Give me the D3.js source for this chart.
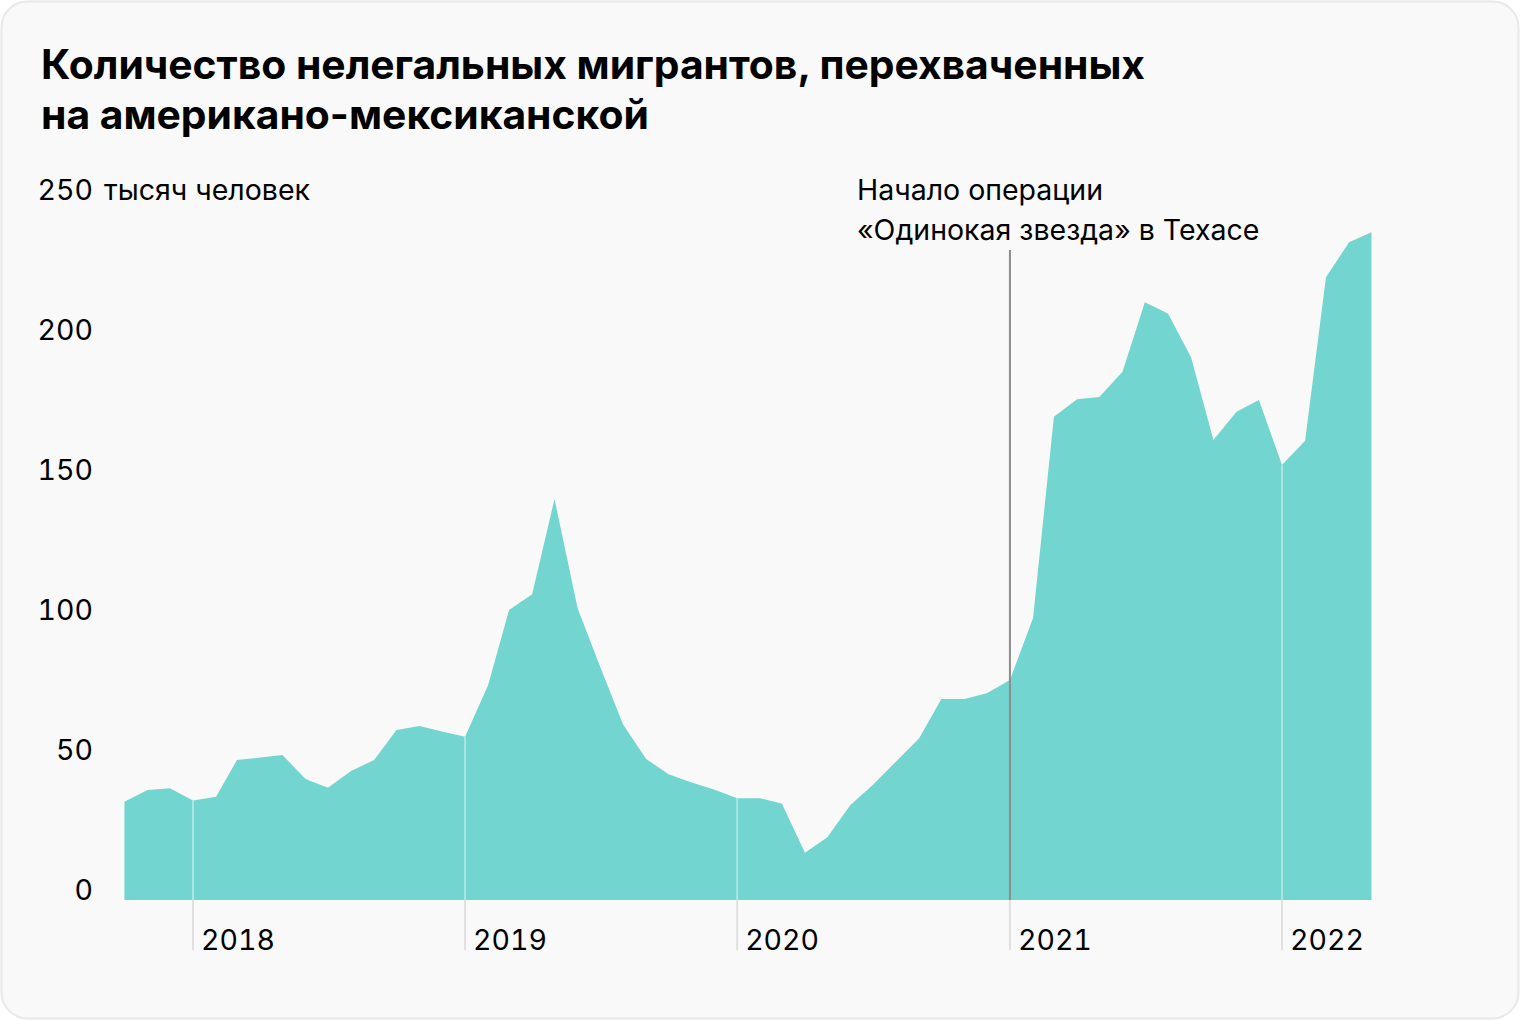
<!DOCTYPE html>
<html>
<head>
<meta charset="utf-8">
<script src="https://cdn.jsdelivr.net/npm/d3@7"></script>
<style>
  html, body { margin: 0; padding: 0; background: #ffffff; }
  svg text { font-family: Inter, "Noto Sans", sans-serif; fill: #000; }
</style>
</head>
<body>
<div id="chart"></div>
<script>
// monthly counts, thousands of people, starting October 2017
var firstMonth = "2017-10";
var values = [
  35.1, 39.3, 39.9,
  35.5, 36.9, 50.0, 50.9, 51.8, 43.2, 40.1, 46.1, 50.0, 60.7, 62.1, 60.2,
  58.3, 76.8, 103.6, 109.2, 143.2, 104.2, 83.5, 62.7, 50.4, 44.9, 42.0, 39.5,
  36.3, 36.3, 34.5, 16.9, 22.4, 33.9, 41.1, 49.4, 57.7, 71.8, 71.8, 73.8,
  78.6, 100.7, 172.6, 178.8, 179.6, 188.7, 213.5, 209.5, 193.8, 164.3, 174.4, 178.6,
  155.4, 164.0, 222.4, 234.9, 238.5
];
var yearTicks = ["2018", "2019", "2020", "2021", "2022"];
var yTicks = [0, 50, 100, 150, 200, 250];
var titleLines = ["Количество нелегальных мигрантов, перехваченных", "на американо-мексиканской"];
var unitLabel = "тысяч человек";
var noteDate = "2021-01";
var noteLines = ["Начало операции", "«Одинокая звезда» в Техасе"];

var width = 1520, height = 1020;
var fontSize = "28.5px";
var parseMonth = d3.utcParse("%Y-%m");
var start = parseMonth(firstMonth);
var data = values.map(function(v, i) {
  return {date: d3.utcMonth.offset(start, i), value: v};
});

var svg = d3.select("#chart").append("svg")
  .attr("width", width)
  .attr("height", height);

svg.append("rect")
  .attr("x", 1.5).attr("y", 1.5)
  .attr("width", width - 3).attr("height", height - 3)
  .attr("rx", 26)
  .attr("fill", "#f9f9f9")
  .attr("stroke", "#e8e8e8")
  .attr("stroke-width", 2);

var x = d3.scaleUtc()
  .domain([parseMonth("2018-01"), parseMonth("2022-01")])
  .range([193, 1282]);
var y = d3.scaleLinear()
  .domain([0, 250])
  .range([900, 200]);

// title
svg.append("text")
  .attr("x", 41).attr("y", 79)
  .style("font-size", "40.8px")
  .style("font-weight", 700)
  .selectAll("tspan")
  .data(titleLines)
  .enter().append("tspan")
  .attr("x", 41)
  .attr("dy", function(d, i) { return i ? 50 : 0; })
  .text(function(d) { return d; });

// area
var area = d3.area()
  .x(function(d) { return x(d.date); })
  .y0(y(0))
  .y1(function(d) { return y(d.value); });

svg.append("path")
  .datum(data)
  .attr("d", area)
  .attr("fill", "#72d5cf");

// year ticks
var yearData = yearTicks.map(function(t) {
  var d = d3.utcParse("%Y")(t);
  var pt = data.find(function(p) { return +p.date === +d; });
  return {label: t, date: d, value: pt ? pt.value : 0};
});

svg.selectAll(".yearIn")
  .data(yearData)
  .enter().append("line")
  .attr("class", "yearIn")
  .attr("x1", function(d) { return x(d.date); })
  .attr("x2", function(d) { return x(d.date); })
  .attr("y1", function(d) { return y(d.value); })
  .attr("y2", y(0))
  .attr("stroke", "#ffffff")
  .attr("stroke-opacity", 0.4)
  .attr("stroke-width", 2);

svg.selectAll(".yearOut")
  .data(yearData)
  .enter().append("line")
  .attr("class", "yearOut")
  .attr("x1", function(d) { return x(d.date); })
  .attr("x2", function(d) { return x(d.date); })
  .attr("y1", y(0))
  .attr("y2", 950)
  .attr("stroke", "#e0e0e0")
  .attr("stroke-width", 2);

svg.selectAll(".yearLabel")
  .data(yearData)
  .enter().append("text")
  .attr("class", "yearLabel")
  .attr("x", function(d) { return x(d.date) + 8; })
  .attr("y", 950)
  .style("font-size", fontSize)
  .style("font-variant-numeric", "tabular-nums")
  .text(function(d) { return d.label; });

// y labels
svg.selectAll(".yLabel")
  .data(yTicks)
  .enter().append("text")
  .attr("class", "yLabel")
  .attr("x", 93)
  .attr("y", function(d) { return y(d); })
  .attr("text-anchor", "end")
  .style("font-size", fontSize)
  .style("font-variant-numeric", "tabular-nums")
  .text(function(d) { return d; });

svg.append("text")
  .attr("x", 104)
  .attr("y", y(yTicks[yTicks.length - 1]))
  .style("font-size", fontSize)
  .text(unitLabel);

// annotation
var nx = x(parseMonth(noteDate));
svg.append("line")
  .attr("x1", nx).attr("x2", nx)
  .attr("y1", 250).attr("y2", y(0))
  .attr("stroke", "#8c8c8c")
  .attr("stroke-width", 2);

svg.append("text")
  .attr("y", 200)
  .style("font-size", fontSize)
  .selectAll("tspan")
  .data(noteLines)
  .enter().append("tspan")
  .attr("x", 857)
  .attr("dy", function(d, i) { return i ? 40 : 0; })
  .text(function(d) { return d; });
</script>
</body>
</html>
